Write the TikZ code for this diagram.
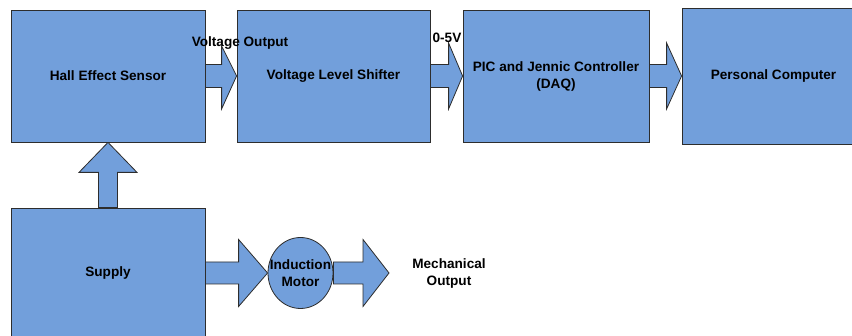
\documentclass[tikz,border=0pt]{standalone}
\usepackage{fontspec}
\setmainfont{Liberation Sans}
\usetikzlibrary{calc,shapes.geometric,backgrounds}
\definecolor{boxblue}{RGB}{114,159,219}
\definecolor{edgegray}{RGB}{45,45,45}

\begin{document}
\begin{tikzpicture}[x=1pt, y=1pt,
  block/.style={draw=edgegray, fill=boxblue, line width=0.8pt, inner sep=0pt,
    align=center, font=\fontsize{13.6}{17}\selectfont\bfseries},
  bigarrow/.style={draw=edgegray, fill=boxblue, line width=0.8pt, line join=miter},
  lbl/.style={inner sep=0pt, align=center, font=\fontsize{13.6}{17}\selectfont\bfseries}]
  \useasboundingbox (0,0) rectangle (852,336);

  % Top row of blocks
  \node[block, minimum width=194, minimum height=132] (hes) at (108,260) {Hall Effect Sensor};
  \node[block, minimum width=193, minimum height=132] (vls) at (333.5,260) {Voltage Level Shifter};
  \node[block, minimum width=186, minimum height=132] (pic) at (556,260) {PIC and Jennic Controller\\(DAQ)};
  \node[block, minimum width=183, minimum height=136] (pc) at (773.5,260) {Personal Computer};

  % Bottom row
  \node[block, minimum width=194, minimum height=130] (sup) at (108,63) {Supply};
  \node[block, ellipse, minimum width=65, minimum height=71] (mot) at (300.5,63) {};
  \node[lbl] (motlbl) at (mot) {Induction\\Motor};
  \node[lbl] (mech) at (449,63) {Mechanical\\Output};
  \coordinate (mechtip) at (389,63);

  % Signal labels
  \node[lbl] (vout) at (240,293) {Voltage Output};
  \node[lbl] (range) at (447,298) {0-5V};

  \begin{pgfonlayer}{background}
  % Arrows between top blocks
  \draw[bigarrow] let \p1=(hes.east), \p2=(vls.west) in
    (\x1,\y1+11.5) -- (\x2-15,\y1+11.5) -- (\x2-15,\y1+30) -- (\x2,\y1)
    -- (\x2-15,\y1-33) -- (\x2-15,\y1-11.5) -- (\x1,\y1-11.5) -- cycle;
  \draw[bigarrow] let \p1=(vls.east), \p2=(pic.west) in
    (\x1,\y1+11.5) -- (\x2-14,\y1+11.5) -- (\x2-14,\y1+33) -- (\x2,\y1)
    -- (\x2-14,\y1-33) -- (\x2-14,\y1-11.5) -- (\x1,\y1-11.5) -- cycle;
  \draw[bigarrow] let \p1=(pic.east), \p2=(pc.west) in
    (\x1,\y1+11.5) -- (\x2-15,\y1+11.5) -- (\x2-15,\y1+33) -- (\x2,\y1)
    -- (\x2-15,\y1-33) -- (\x2-15,\y1-11.5) -- (\x1,\y1-11.5) -- cycle;

  % Supply up to sensor
  \draw[bigarrow] let \p1=(sup.north), \p2=(hes.south) in
    (\x1-9.5,\y1) -- (\x1-9.5,\y2-30) -- (\x1-29,\y2-30) -- (\x1,\y2)
    -- (\x1+29,\y2-30) -- (\x1+9.5,\y2-30) -- (\x1+9.5,\y1) -- cycle;

  % Supply to motor, motor to output
  \draw[bigarrow] let \p1=(sup.east), \p2=(mot.west) in
    (\x1,\y1+11) -- (\x2-29,\y1+11) -- (\x2-29,\y1+33.5) -- (\x2,\y1)
    -- (\x2-29,\y1-33.5) -- (\x2-29,\y1-11) -- (\x1,\y1-11) -- cycle;
  \draw[bigarrow] let \p1=(mot.east), \p2=(mechtip) in
    (\x1,\y1+11) -- (\x2-26,\y1+11) -- (\x2-26,\y1+33.5) -- (\x2,\y1)
    -- (\x2-26,\y1-33.5) -- (\x2-26,\y1-11) -- (\x1,\y1-11) -- cycle;
  \end{pgfonlayer}
\end{tikzpicture}
\end{document}
